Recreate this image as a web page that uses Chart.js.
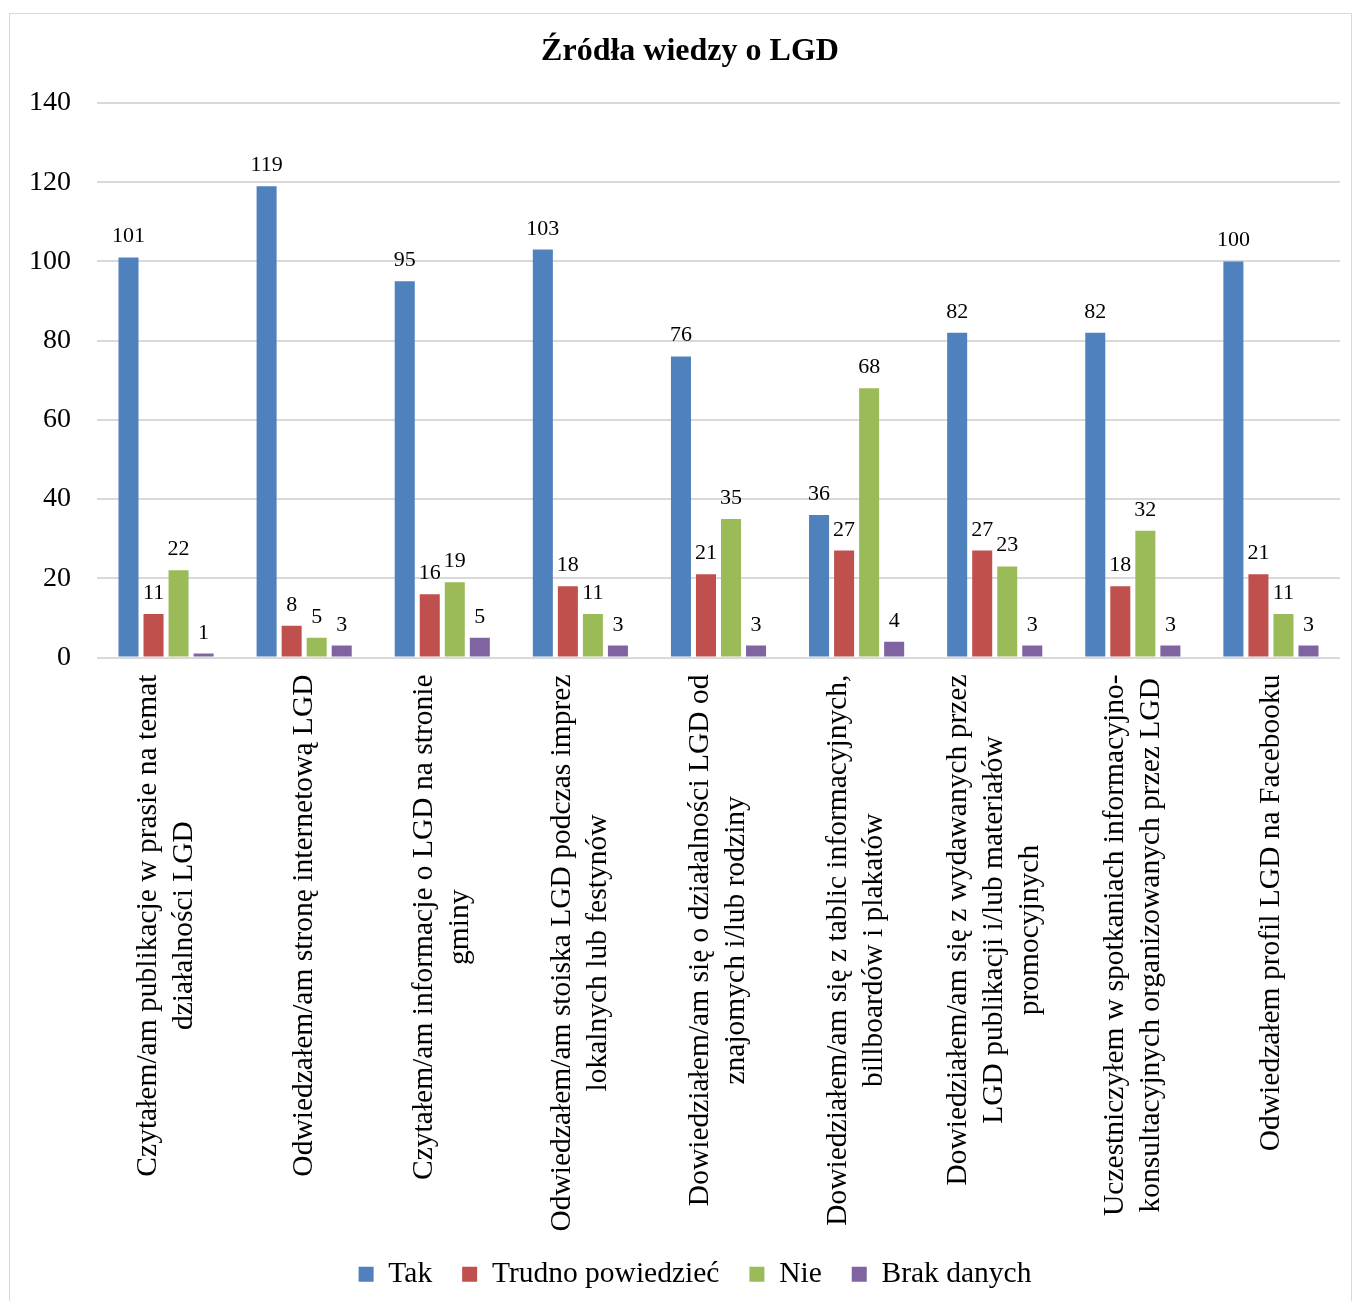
<!DOCTYPE html>
<html lang="pl">
<head>
<meta charset="utf-8">
<title>Źródła wiedzy o LGD</title>
<script src="https://cdn.jsdelivr.net/npm/chart.js@4.4.1/dist/chart.umd.min.js"></script>
<style>
  body{margin:0;background:#fff;overflow:hidden;}
  #wrap{position:relative;width:1360px;height:1318px;}
  #frame{position:absolute;left:9px;top:13px;width:1341px;height:1300px;border:1px solid #d9d9d9;pointer-events:none;}
</style>
</head>
<body>
<div id="wrap">
  <canvas id="chart"></canvas>
  <div id="frame"></div>
</div>
<script>
// dane z wykresu
const kategorie = [
  ["Czytałem/am publikacje w prasie na temat", "działalności LGD"],
  ["Odwiedzałem/am stronę internetową LGD"],
  ["Czytałem/am informacje o LGD na stronie", "gminy"],
  ["Odwiedzałem/am stoiska LGD podczas imprez", "lokalnych lub festynów"],
  ["Dowiedziałem/am się o działalności LGD od", "znajomych i/lub rodziny"],
  ["Dowiedziałem/am się z tablic informacyjnych,", "billboardów i plakatów"],
  ["Dowiedziałem/am się z wydawanych przez", "LGD publikacji i/lub materiałów", "promocyjnych"],
  ["Uczestniczyłem w spotkaniach informacyjno-", "konsultacyjnych organizowanych przez LGD"],
  ["Odwiedzałem profil LGD na Facebooku"]
];
const tak    = [101, 119, 95, 103, 76, 36, 82, 82, 100];
const trudno = [11, 8, 16, 18, 21, 27, 27, 18, 21];
const nie    = [22, 5, 19, 11, 35, 68, 23, 32, 11];
const brak   = [1, 3, 5, 3, 3, 4, 3, 3, 3];

const FONT = "'Liberation Serif', 'Times New Roman', serif";

// wartości nad słupkami
const etykiety = {
  id: "etykiety",
  afterDatasetsDraw(chart){
    const ctx = chart.ctx;
    ctx.save();
    ctx.font = "22px " + FONT;
    ctx.fillStyle = "#000";
    ctx.textAlign = "center";
    ctx.textBaseline = "alphabetic";
    chart.data.datasets.forEach((ds, i)=>{
      chart.getDatasetMeta(i).data.forEach((bar, j)=>{
        ctx.fillText(ds.data[j], bar.x, bar.y - 15);
      });
    });
    ctx.restore();
  }
};

// pionowe, wyśrodkowane podpisy kategorii
const podpisy = {
  id: "podpisy",
  afterDraw(chart){
    const ctx = chart.ctx, sx = chart.scales.x;
    const top = chart.chartArea.bottom + 17;
    const lh = 36;
    ctx.save();
    ctx.font = "29.5px " + FONT;
    ctx.fillStyle = "#000";
    ctx.textAlign = "center";
    ctx.textBaseline = "middle";
    kategorie.forEach((lines, i)=>{
      const x = sx.getPixelForTick(i);
      const maxW = Math.max(...lines.map(l=>ctx.measureText(l).width));
      ctx.save();
      ctx.translate(x, top);
      ctx.rotate(-Math.PI/2);
      lines.forEach((l, k)=>{
        ctx.fillText(l, -maxW/2, (k - (lines.length-1)/2) * lh);
      });
      ctx.restore();
    });
    ctx.restore();
  }
};

// tytuł i legenda lekko w prawo, jak w oryginale
const przesun = {
  id: "przesun",
  afterLayout(chart){
    if(chart.titleBlock){ chart.titleBlock.left += 20; chart.titleBlock.right += 20; }
    if(chart.legend){ chart.legend.left += 25; chart.legend.right += 25; }
  }
};

new Chart(document.getElementById("chart"), {
  type: "bar",
  data: {
    labels: kategorie,
    datasets: [
      {label:"Tak", data:tak, backgroundColor:"#4F81BD"},
      {label:"Trudno powiedzieć", data:trudno, backgroundColor:"#C0504D"},
      {label:"Nie", data:nie, backgroundColor:"#9BBB59"},
      {label:"Brak danych", data:brak, backgroundColor:"#8064A2"}
    ]
  },
  options: {
    responsive: true,
    maintainAspectRatio: false,
    animation: false,
    datasets: { bar: { barPercentage: 0.8, categoryPercentage: 0.725 } },
    layout: { padding: { left: 0, right: 20, top: 0, bottom: 19 } },
    plugins: {
      title: {
        display: true,
        text: "Źródła wiedzy o LGD",
        color: "#000",
        font: { family: FONT, size: 32, weight: "bold" },
        padding: { top: 33, bottom: 31.6 }
      },
      legend: {
        position: "bottom",
        labels: {
          color: "#000",
          font: { family: FONT, size: 29.5 },
          boxWidth: 15, boxHeight: 15,
          padding: 30
        }
      },
      tooltip: { enabled: false }
    },
    scales: {
      x: {
        grid: { display: false },
        border: { display: false },
        ticks: { display: false },
        afterFit(s){ s.height = 572; }
      },
      y: {
        min: 0, max: 140,
        ticks: { stepSize: 20, color: "#000", font: { family: FONT, size: 28 }, padding: 26 },
        grid: { color: "#d9d9d9", lineWidth: 2, drawTicks: false },
        border: { display: false },
        afterFit(s){ s.width = 97; }
      }
    }
  },
  plugins: [etykiety, podpisy, przesun]
});
</script>
</body>
</html>
